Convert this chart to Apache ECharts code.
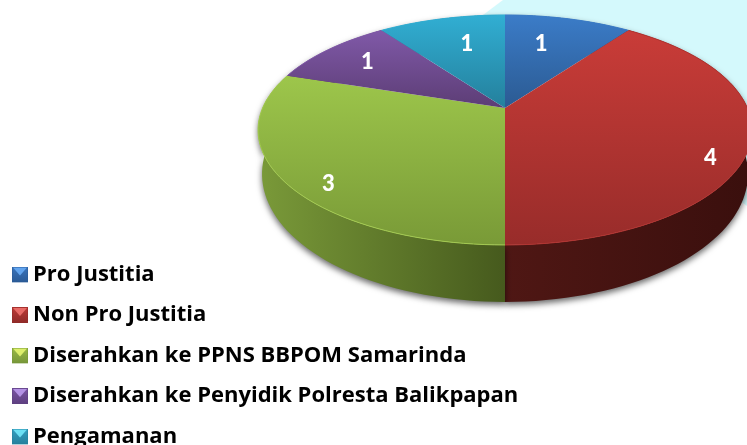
<!DOCTYPE html>
<html>
<head>
<meta charset="utf-8">
<style>html,body{margin:0;padding:0;background:#fff}#c{width:747px;height:445px}</style>
<script src="https://cdn.jsdelivr.net/npm/echarts@6/dist/echarts.min.js"></script>
</head>
<body>
<div id="c"></div>
<script>
const categories = ['Pro Justitia', 'Non Pro Justitia', 'Diserahkan ke PPNS BBPOM Samarinda', 'Diserahkan ke Penyidik Polresta Balikpapan', 'Pengamanan'];
const values = [1, 4, 3, 1, 1];

// styling
const faceColors = [['#3b7cc8','#2b5a92'],['#c93c38','#982c2a'],['#9dc64b','#799a37'],['#8059a8','#5c3d75'],['#31aed3','#24809c']];
const wallColors = [['#2b5a92','#1f4470'],['#4f1714','#3a0f0d'],['#7a9a39','#465a1d'],['#5c3d75','#46305a'],['#24809c','#1c6478']];
const rimColors = ['#3b7cc8','#b23330','#a3ca50','#8059a8','#31aed3'];
const iconColors = [['#62a4ee','#3a74bc','#2a5a96'],['#e86a66','#bd3a36','#8f2a28'],['#dcee6c','#9aba44','#76963a'],['#b391e4','#7a55a4','#5e3f80'],['#6ce0f4','#33a0c2','#26809c']];
const labelNudge = [[-15,8],[17,22],[-9,20],[3,1],[13,8]];

// projective (tilted disc) mapping of a unit circle onto the screen
const CX = 505, TILT = 0.191;
const TOP = {A: 242.4, B: 110.8, C: 108};
const BOT = {A: 238.5, B: 123.3, C: 149.5};
function project(p, deg, r) {
  const t = deg * Math.PI / 180, u = r * Math.sin(t), v = -r * Math.cos(t), w = 1 - TILT * v;
  return [CX + p.A * u / w, p.C + p.B * v / w];
}
function arc(p, a0, a1) {
  const pts = [], n = Math.max(2, Math.ceil(Math.abs(a1 - a0) / 2));
  for (let k = 0; k <= n; k++) pts.push(project(p, a0 + (a1 - a0) * k / n, 1));
  return pts;
}
const total = values.reduce((a, b) => a + b, 0);
const V = (c) => new echarts.graphic.LinearGradient(0, 0, 0, 1, [{offset: 0, color: c[0]}, {offset: 1, color: c[1]}]);
const H = (c) => new echarts.graphic.LinearGradient(0, 0, 1, 0, [{offset: 0, color: c[0]}, {offset: 1, color: c[1]}]);

function makeRender(i) {
  return function (params, api) {
    const before = values.slice(0, i).reduce((a, b) => a + b, 0);
    const a0 = before / total * 360, a1 = a0 + api.value(0) / total * 360;
    const top = arc(TOP, a0, a1), bot = arc(BOT, a0, a1);
    const apex = project(TOP, 0, 0);
    const mid = project(TOP, (a0 + a1) / 2, 0.78);
    return {type: 'group', children: [
      {type: 'polygon', z2: 1, shape: {points: top.concat(bot.slice().reverse())},
        style: {fill: H(wallColors[i]), shadowBlur: 6, shadowColor: 'rgba(0,0,0,0.6)', shadowOffsetY: 3, shadowOffsetX: 0}},
      {type: 'polygon', z2: 10, shape: {points: [apex].concat(top)}, style: {fill: V(faceColors[i])}},
      {type: 'polyline', z2: 11, shape: {points: top}, style: {fill: null, stroke: rimColors[i], lineWidth: 1}},
      {type: 'text', z2: 20, style: {text: String(api.value(0)), x: mid[0] + labelNudge[i][0], y: mid[1] + labelNudge[i][1],
        fill: '#fff', font: '900 22px Lato, sans-serif', align: 'center', verticalAlign: 'middle'}}
    ]};
  };
}
function icon(c) {
  const svg = `<svg xmlns="http://www.w3.org/2000/svg" width="16" height="16"><defs><linearGradient id="g" x1="0" y1="0" x2="0" y2="1"><stop offset="0" stop-color="${c[1]}"/><stop offset="1" stop-color="${c[2]}"/></linearGradient></defs><rect width="16" height="16" fill="url(#g)"/><polygon points="1,1 15,1 8,9" fill="${c[0]}"/><rect x="0.5" y="0.5" width="15" height="15" fill="none" stroke="${c[2]}" stroke-opacity="0.5"/></svg>`;
  return 'image://data:image/svg+xml;charset=utf-8,' + encodeURIComponent(svg);
}
const chart = echarts.init(document.getElementById('c'), null, {renderer: 'canvas'});
chart.setOption({
  animation: false,
  backgroundColor: '#fff',
  graphic: [{type: 'polygon', z: -1, silent: true,
    shape: {points: [[503,0],[747,0],[747,206],[600,100],[483,15]]},
    style: {fill: '#d4f9fc'}}],
  legend: {
    orient: 'vertical', left: 12, top: 263.5, height: 300, itemWidth: 16, itemHeight: 16, itemGap: 18.5, padding: 0,
    selectedMode: false,
    textStyle: {color: '#000', fontFamily: '"Open Sans", sans-serif', fontWeight: 'bold', fontSize: 22},
    data: categories.map((n, i) => ({name: n, icon: icon(iconColors[i])}))
  },
  series: categories.map((n, i) => ({
    type: 'custom', name: n, coordinateSystem: 'none', silent: true, clip: false,
    itemStyle: {color: faceColors[i][0]},
    renderItem: makeRender(i),
    data: [[values[i]]]
  }))
});
</script>
</body>
</html>
